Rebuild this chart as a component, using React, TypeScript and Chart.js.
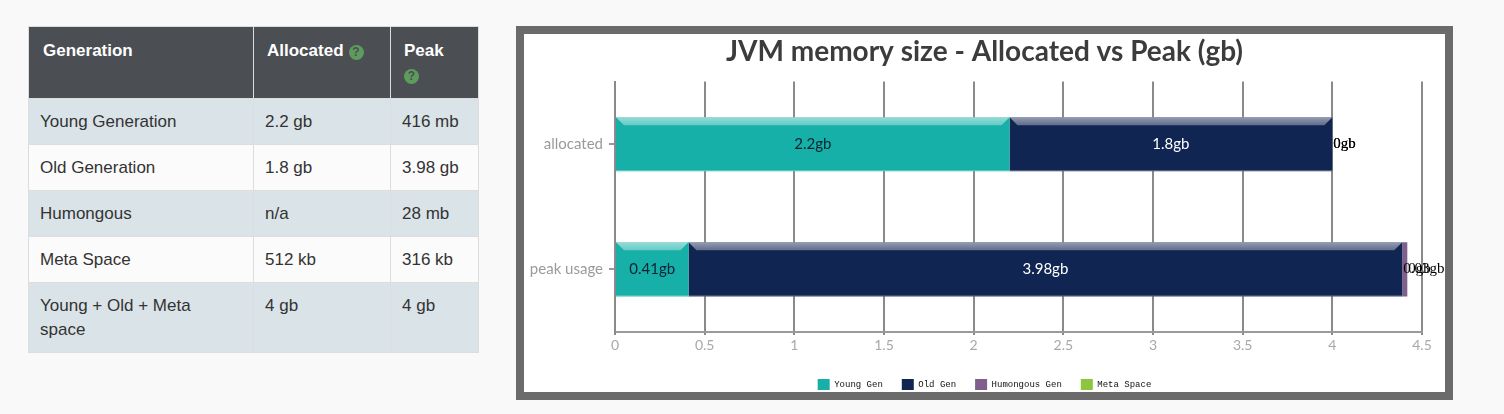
import React, { useEffect, useRef } from "react";
import { Chart, registerables } from "chart.js";

Chart.register(...registerables);

// ---------- Table data ----------
const tableHeaders = ["Generation", "Allocated", "Peak"];
const tableRowNames = ["Young Generation", "Old Generation", "Humongous", "Meta Space", "Young + Old + Meta space"];
const tableAllocated = ["2.2 gb", "1.8 gb", "n/a", "512 kb", "4 gb"];
const tablePeak = ["416 mb", "3.98 gb", "28 mb", "316 kb", "4 gb"];

// ---------- Chart data ----------
const titleText = "JVM memory size - Allocated vs Peak (gb)";
const categories = ["allocated", "peak usage"];
const seriesNames = ["Young Gen", "Old Gen", "Humongous Gen", "Meta Space"];
const youngGen = [2.2, 0.41];
const oldGen = [1.8, 3.98];
const humongousGen = [0, 0.028];
const metaSpace = [0.0005, 0.0003];
const seriesColors = ["#17b0a8", "#112552", "#7f5f8c", "#8cc63f"];
const labelColors = ["#0b2233", "#ffffff", "#ffffff", "#000000"];
const xMin = 0;
const xMax = 4.5;
const xStep = 0.5;

const fmt = (v: number) => `${+v.toFixed(2)}gb`;

const CANVAS_W = 921;
const CANVAS_H = 366;
const VISIBLE_H = 358;

const barDecor = {
  id: "barDecor",
  afterDatasetsDraw(chart: any) {
    const ctx = chart.ctx;
    ctx.save();
    chart.data.datasets.forEach((ds: any, di: number) => {
      const meta = chart.getDatasetMeta(di);
      meta.data.forEach((el: any, i: number) => {
        const { x, y, base, height } = el.getProps(["x", "y", "base", "height"], true);
        const left = Math.min(x, base);
        const right = Math.max(x, base);
        const w = right - left;
        const top = y - height / 2;
        if (w > 12) {
          const b = 8;
          const g = ctx.createLinearGradient(0, top, 0, top + b);
          g.addColorStop(0, "rgba(255,255,255,0.55)");
          g.addColorStop(1, "rgba(255,255,255,0.33)");
          ctx.fillStyle = g;
          ctx.beginPath();
          ctx.moveTo(left, top);
          ctx.lineTo(right, top);
          ctx.lineTo(right - b, top + b);
          ctx.lineTo(left + b, top + b);
          ctx.closePath();
          ctx.fill();
          ctx.fillStyle = "rgba(255,255,255,0.35)";
          ctx.fillRect(left, y + height / 2 - 1, w, 1);
        }
        const v = ds.data[i];
        ctx.textBaseline = "middle";
        if (w > 30) {
          ctx.font = "15px Lato";
          ctx.fillStyle = labelColors[di];
          ctx.textAlign = "center";
          ctx.fillText(fmt(v), (left + right) / 2, y);
        } else {
          ctx.font = "15px 'Liberation Serif'";
          ctx.fillStyle = "#000000";
          ctx.textAlign = "left";
          ctx.fillText(fmt(v), left + 1, y);
        }
      });
    });
    ctx.restore();
  },
};

function BarChart() {
  const ref = useRef<HTMLCanvasElement | null>(null);
  useEffect(() => {
    if (!ref.current) return;
    const series = [youngGen, oldGen, humongousGen, metaSpace];
    const chart = new Chart(ref.current, {
      type: "bar",
      data: {
        labels: categories,
        datasets: series.map((d, i) => ({
          label: seriesNames[i],
          data: d,
          backgroundColor: seriesColors[i],
          borderWidth: 0,
          barPercentage: 0.9,
          categoryPercentage: 0.48,
        })),
      },
      options: {
        indexAxis: "y",
        responsive: false,
        animation: false,
        layout: { padding: 0 },
        plugins: {
          title: {
            display: true,
            text: titleText,
            color: "#3c3c3c",
            font: { family: "Lato", size: 28, weight: "bold" },
            padding: { top: 1, bottom: 13 },
          },
          legend: {
            position: "bottom",
            labels: {
              boxWidth: 12,
              boxHeight: 11,
              padding: 19,
              color: "#111111",
              font: { family: "'Liberation Mono'", size: 9 },
            },
          },
          tooltip: { enabled: false },
        },
        scales: {
          x: {
            stacked: true,
            min: xMin,
            max: xMax,
            afterFit: (s: any) => {
              s.height = 28;
              s.paddingRight = 23;
            },
            ticks: {
              stepSize: xStep,
              color: "#a8a8a8",
              font: { family: "Lato", size: 14 },
              padding: 2,
              callback: (v: any) => String(+Number(v).toFixed(1)),
            },
            grid: { color: "#8a8a8a", lineWidth: 2, tickLength: 3 },
            border: { color: "#9a9a9a", width: 2 },
          },
          y: {
            stacked: true,
            afterFit: (s: any) => {
              s.width = 91;
            },
            ticks: { color: "#9a9a9a", font: { family: "Lato", size: 15 }, padding: 6 },
            grid: { offset: false, drawOnChartArea: false, tickLength: 6, color: "#999999", lineWidth: 2 },
            border: { color: "#8a8a8a", width: 2 },
          },
        },
      } as any,
      plugins: [barDecor],
    });
    return () => chart.destroy();
  }, []);
  return (
    <div style={{ width: CANVAS_W, height: VISIBLE_H, overflow: "hidden" }}>
      <canvas ref={ref} width={CANVAS_W} height={CANVAS_H} style={{ display: "block" }} />
    </div>
  );
}

const QIcon = ({ ml = 5 }: { ml?: number }) => (
  <span
    style={{
      display: "inline-block",
      width: 15,
      height: 15,
      borderRadius: "50%",
      background: "#5e9c5e",
      color: "#4b4e53",
      fontSize: 12,
      fontWeight: "bold",
      lineHeight: "15px",
      textAlign: "center",
      verticalAlign: "0px",
      marginLeft: ml,
    }}
  >
    ?
  </span>
);

export default function App() {
  const headStyle: React.CSSProperties = {
    background: "#4b4e53",
    color: "#ffffff",
    fontWeight: "bold",
    fontSize: 17,
    lineHeight: "24px",
    verticalAlign: "top",
    textAlign: "left",
    padding: "12px 11px 11px 14px",
    border: "1px solid #dddddd",
  };
  const cellStyle = (r: number, c: number): React.CSSProperties => ({
    background: r % 2 === 0 ? "#dae3e8" : "#fbfbfb",
    color: "#333333",
    fontSize: 17,
    lineHeight: "24px",
    verticalAlign: "top",
    padding: c === 0 ? "11px 30px 10px 11px" : "11px 8px 10px 11px",
    border: "1px solid #dddddd",
  });
  return (
    <div
      style={{
        position: "fixed",
        inset: 0,
        background: "#f9f9f9",
        fontFamily: "'Liberation Sans', Arial, sans-serif",
      }}
    >
      <table
        style={{
          position: "absolute",
          left: 28,
          top: 26,
          width: 450,
          borderCollapse: "collapse",
          tableLayout: "fixed",
        }}
      >
        <colgroup>
          <col style={{ width: 225 }} />
          <col style={{ width: 137 }} />
          <col style={{ width: 88 }} />
        </colgroup>
        <thead>
          <tr style={{ height: 71 }}>
            <th style={headStyle}>{tableHeaders[0]}</th>
            <th style={{ ...headStyle, paddingLeft: 13 }}>
              {tableHeaders[1]}
              <QIcon />
            </th>
            <th style={{ ...headStyle, paddingLeft: 13 }}>
              {tableHeaders[2]}
              <br />
              <QIcon ml={0} />
            </th>
          </tr>
        </thead>
        <tbody>
          {tableRowNames.map((name, r) => (
            <tr key={name}>
              <td style={cellStyle(r, 0)}>{name}</td>
              <td style={cellStyle(r, 1)}>{tableAllocated[r]}</td>
              <td style={cellStyle(r, 2)}>{tablePeak[r]}</td>
            </tr>
          ))}
        </tbody>
      </table>
      <div
        style={{
          position: "absolute",
          left: 516,
          top: 26,
          width: CANVAS_W,
          height: VISIBLE_H,
          border: "8px solid #6b6b6b",
          background: "#ffffff",
        }}
      >
        <BarChart />
      </div>
    </div>
  );
}
